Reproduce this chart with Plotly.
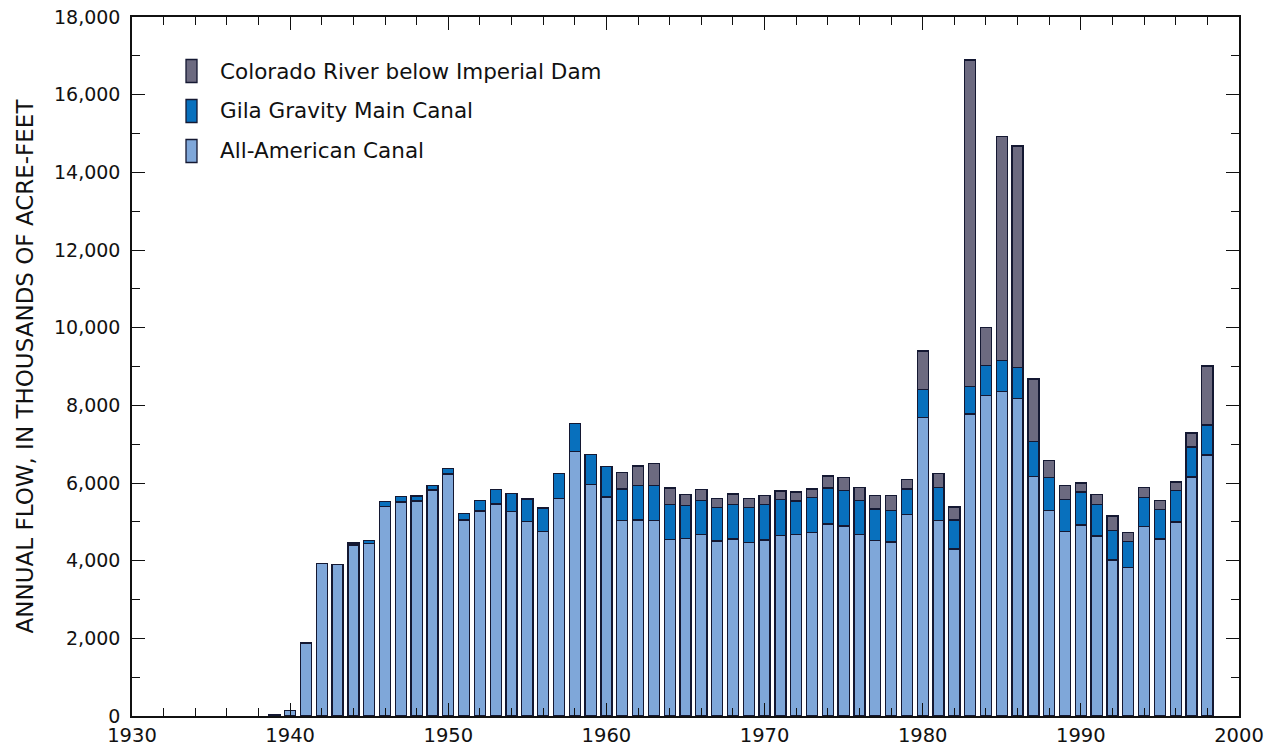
import plotly.graph_objects as go

years = list(range(1939, 1999))

all_american = [40, 150, 1880, 3930, 3910, 4400, 4440, 5390, 5510, 5540,
                5820, 6230, 5050, 5280, 5460, 5270, 5015, 4755, 5605, 6815,
                5965, 5640, 5030, 5050, 5030, 4540, 4565, 4680, 4505, 4560,
                4475, 4530, 4645, 4670, 4730, 4945, 4895, 4680, 4525, 4480,
                5185, 7685, 5040, 4300, 7780, 8255, 8353, 8170, 6165, 5295,
                4755, 4920, 4635, 4015, 3820, 4885, 4560, 4995, 6155, 6720]

gila_gravity = [0, 0, 0, 0, 0, 55, 85, 140, 140, 125,
                120, 150, 170, 275, 380, 455, 575, 600, 645, 720,
                775, 780, 815, 880, 910, 910, 850, 875, 860, 880,
                890, 920, 935, 865, 900, 925, 915, 865, 805, 810,
                660, 730, 850, 750, 705, 775, 797, 810, 900, 850,
                825, 850, 815, 760, 670, 740, 755, 810, 775, 775]

colorado_below = [0, 0, 0, 0, 0, 0, 0, 0, 0, 0,
                  0, 0, 0, 0, 0, 0, 0, 0, 0, 0,
                  0, 0, 430, 510, 565, 420, 285, 285, 240, 275,
                  240, 235, 215, 235, 215, 310, 330, 335, 345, 385,
                  250, 985, 350, 330, 8410, 980, 5780, 5700, 1615, 440,
                  360, 230, 260, 375, 230, 265, 230, 220, 355, 1520]

series_names = ["All-American Canal", "Gila Gravity Main Canal", "Colorado River below Imperial Dam"]
series_colors = ["#7fa7d9", "#0870bd", "#6c6a80"]
x_ticks = [1930, 1940, 1950, 1960, 1970, 1980, 1990, 2000]
y_ticks = list(range(0, 18001, 2000))

FONT = "DejaVu Sans, Liberation Sans, Arial, sans-serif"
OUTLINE = "#141832"
INK = "#111111"

fig = go.Figure()
for name, vals, col in zip(series_names, [all_american, gila_gravity, colorado_below], series_colors):
    fig.add_trace(go.Bar(
        x=years, y=vals, name=name, width=0.7,
        marker=dict(color=col, line=dict(color=OUTLINE, width=1.3)),
        showlegend=False,
    ))

# page geometry (the page body has an 8px default margin)
BODY = 8
W, H = 1274 - BODY, 749 - BODY
L, R, T, B = 132, 1239, 17, 716   # plot area in page pixels
def px(x):
    return (x - L) / (R - L)
def py(y):
    return (B - y) / (B - T)

# Manual legend (tall swatches like the original)
legend_items = [("Colorado River below Imperial Dam", series_colors[2], 59.5, 82.5, 71),
                ("Gila Gravity Main Canal", series_colors[1], 99.5, 122.5, 111),
                ("All-American Canal", series_colors[0], 139.5, 162.5, 151)]
shapes = []
annotations = []
for text, col, y0, y1, yc in legend_items:
    shapes.append(dict(type="rect", xref="paper", yref="paper",
                       x0=px(186), x1=px(197), y0=py(y1), y1=py(y0),
                       fillcolor=col, line=dict(color=OUTLINE, width=1.3)))
    annotations.append(dict(xref="paper", yref="paper", x=px(218), y=py(yc),
                            text=text, showarrow=False, xanchor="left", yanchor="middle",
                            font=dict(family=FONT, size=21.5, color=INK)))

fig.update_layout(
    barmode="stack",
    width=W, height=H,
    margin=dict(l=L - BODY, r=1274 - R, t=T - BODY, b=749 - B, autoexpand=False),
    paper_bgcolor="white", plot_bgcolor="white",
    font=dict(family=FONT, size=19, color=INK),
    shapes=shapes,
    annotations=annotations,
    xaxis=dict(range=[1930, 2000], tickvals=x_ticks, ticks="inside", ticklen=13,
               tickwidth=1.3, tickcolor=INK, automargin=False,
               showline=True, linecolor=INK, linewidth=1.5, mirror="ticks",
               showgrid=False, zeroline=False, ticklabelstandoff=1,
               minor=dict(dtick=2, tick0=1930, ticks="inside", ticklen=8, tickwidth=1.2,
                          tickcolor=INK, showgrid=False),
               tickfont=dict(family=FONT, size=19.5, color=INK)),
    yaxis=dict(range=[0, 18000], tickvals=y_ticks, tickformat=",", ticks="inside", ticklen=13,
               tickwidth=1.3, tickcolor=INK, automargin=False,
               showline=True, linecolor=INK, linewidth=1.5, mirror="ticks",
               showgrid=False, zeroline=False, ticklabeloverflow="allow",
               minor=dict(dtick=1000, tick0=0, ticks="inside", ticklen=8, tickwidth=1.2,
                          tickcolor=INK, showgrid=False),
               ticklabelstandoff=6,
               title=dict(text="ANNUAL FLOW, IN THOUSANDS OF ACRE-FEET", standoff=14,
                          font=dict(family=FONT, size=23, color=INK)),
               tickfont=dict(family=FONT, size=19, color=INK)),
)

fig.write_html("out.html")
